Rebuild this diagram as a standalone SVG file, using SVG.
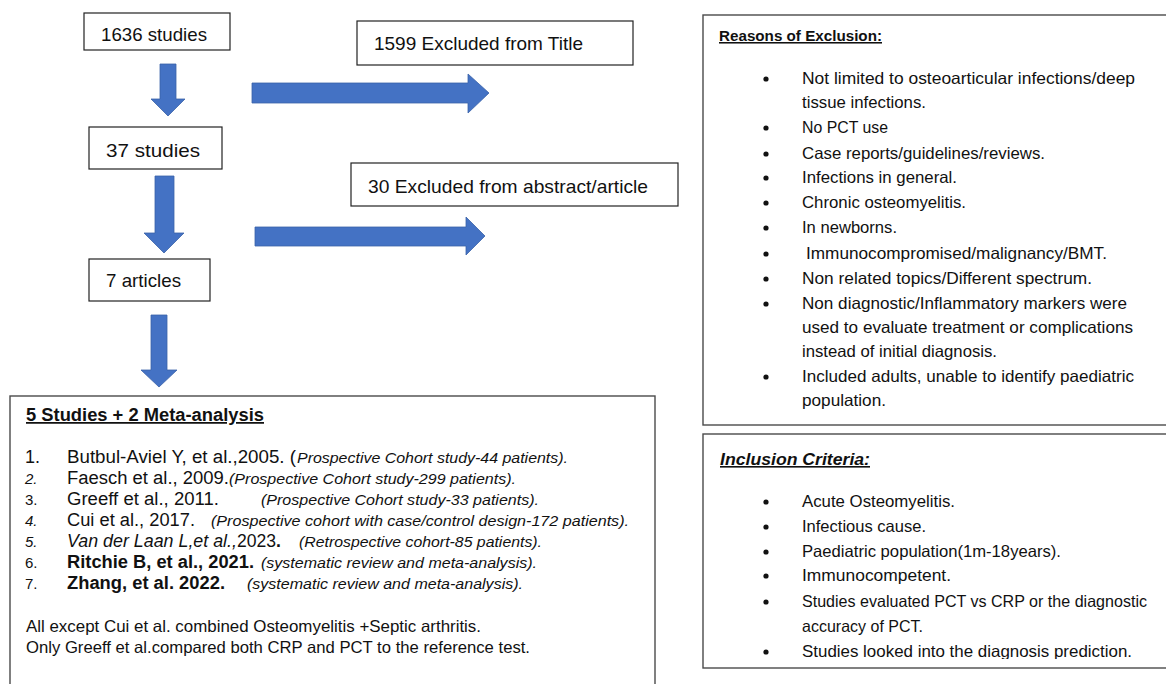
<svg xmlns="http://www.w3.org/2000/svg" width="1166" height="684" viewBox="0 0 1166 684">
<defs>
<style>
.box{fill:#fff;stroke:#222;stroke-width:1.2}
.box2{fill:#fff;stroke:#4a4a4a;stroke-width:1.4}
.arr{fill:#4472C4;stroke:#3a62a8;stroke-width:0.8}
.cal{font-family:"Liberation Sans",Arial,sans-serif;fill:#111}
.nar{font-family:"Liberation Sans",Arial,sans-serif;fill:#111}
.it{font-style:italic}
.b{font-weight:bold}
.u{text-decoration:underline}
.dot{fill:#111}
.rt{font-size:16.5px}
</style>
<clipPath id="incClip"><rect x="703" y="434" width="470" height="225"/></clipPath>
</defs>

<g id="connectors">
<polygon class="arr" points="160,64 176,64 176,99 185,99 168,116 151,99 160,99"/>
<polygon class="arr" points="155,176 174,176 174,233 184,233 164,253 144,233 155,233"/>
<polygon class="arr" points="151,315 167,315 167,370 177,370 159,387 141,370 151,370"/>
<polygon class="arr" points="252,83 468,83 468,74 489,93 468,113 468,103 252,103"/>
<polygon class="arr" points="255,227 466,227 466,217 485,236 466,255 466,246 255,246"/>
</g>

<g id="n1636">
<rect class="box" x="84" y="13" width="146" height="37"/>
<text class="cal" x="101" y="41" font-size="19" textLength="106" lengthAdjust="spacingAndGlyphs">1636 studies</text>
</g>

<g id="excl-title">
<rect class="box" x="357" y="21" width="276" height="44"/>
<text class="cal" x="374" y="50" font-size="19" textLength="209" lengthAdjust="spacingAndGlyphs">1599 Excluded from Title</text>
</g>

<g id="n37">
<rect class="box" x="89" y="127" width="133" height="42"/>
<text class="cal" x="106" y="157" font-size="19" textLength="94" lengthAdjust="spacingAndGlyphs">37 studies</text>
</g>

<g id="excl-abstract">
<rect class="box" x="351" y="163" width="327" height="43"/>
<text class="cal" x="368" y="193" font-size="19" textLength="280" lengthAdjust="spacingAndGlyphs">30 Excluded from abstract/article</text>
</g>

<g id="n7">
<rect class="box" x="89" y="259" width="121" height="42"/>
<text class="cal" x="106" y="287" font-size="19" textLength="75" lengthAdjust="spacingAndGlyphs">7 articles</text>
</g>

<g id="results">
<rect class="box2" x="10" y="396" width="645" height="300"/>
<text class="nar b u" x="26" y="421" font-size="17.5" textLength="238" lengthAdjust="spacingAndGlyphs">5 Studies + 2 Meta-analysis</text>

<text class="nar" x="25" y="463" font-size="18">1.</text>
<text class="nar" x="67" y="463" font-size="18" textLength="229" lengthAdjust="spacingAndGlyphs">Butbul-Aviel Y, et al.,2005. (</text>
<text class="nar it" x="297" y="463" font-size="15" textLength="271" lengthAdjust="spacingAndGlyphs">Prospective Cohort study-44 patients).</text>

<text class="nar it" x="25" y="484" font-size="15">2.</text>
<text class="nar" x="67" y="484" font-size="18" textLength="162" lengthAdjust="spacingAndGlyphs">Faesch et al., 2009.</text>
<text class="nar it" x="229" y="484" font-size="15" textLength="287" lengthAdjust="spacingAndGlyphs">(Prospective Cohort study-299 patients).</text>

<text class="nar" x="25" y="505" font-size="15">3.</text>
<text class="nar" x="67" y="505" font-size="18" textLength="152" lengthAdjust="spacingAndGlyphs">Greeff et al., 2011.</text>
<text class="nar it" x="261" y="505" font-size="15" textLength="278" lengthAdjust="spacingAndGlyphs">(Prospective Cohort study-33 patients).</text>

<text class="nar it" x="25" y="526" font-size="15">4.</text>
<text class="nar" x="67" y="526" font-size="18" textLength="128" lengthAdjust="spacingAndGlyphs">Cui et al., 2017.</text>
<text class="nar it" x="211" y="526" font-size="15" textLength="418" lengthAdjust="spacingAndGlyphs">(Prospective cohort with case/control design-172 patients).</text>

<text class="nar it" x="25" y="547" font-size="15">5.</text>
<text class="nar it" x="67" y="547" font-size="18" textLength="170" lengthAdjust="spacingAndGlyphs">Van der Laan L,et al.,</text>
<text class="nar" x="237" y="547" font-size="18" textLength="44" lengthAdjust="spacingAndGlyphs">2023<tspan font-weight="bold">.</tspan></text>
<text class="nar it" x="299" y="547" font-size="15" textLength="243" lengthAdjust="spacingAndGlyphs">(Retrospective cohort-85 patients).</text>

<text class="nar" x="25" y="568" font-size="15">6.</text>
<text class="nar b" x="67" y="568" font-size="18" textLength="187" lengthAdjust="spacingAndGlyphs">Ritchie B, et al., 2021.</text>
<text class="nar it" x="261" y="568" font-size="15" textLength="276" lengthAdjust="spacingAndGlyphs">(systematic review and meta-analysis).</text>

<text class="nar" x="25" y="589" font-size="15">7.</text>
<text class="nar b" x="67" y="589" font-size="18" textLength="158" lengthAdjust="spacingAndGlyphs">Zhang, et al. 2022.</text>
<text class="nar it" x="247" y="589" font-size="15" textLength="276" lengthAdjust="spacingAndGlyphs">(systematic review and meta-analysis).</text>

<text class="cal rt" x="26" y="632" textLength="455" lengthAdjust="spacingAndGlyphs">All except Cui et al. combined Osteomyelitis +Septic arthritis.</text>
<text class="cal rt" x="26" y="653" textLength="504" lengthAdjust="spacingAndGlyphs">Only Greeff et al.compared both CRP and PCT to the reference test.</text>
</g>

<g id="reasons">
<rect class="box2" x="703" y="15" width="470" height="410"/>
<text class="cal b u" x="719" y="41" font-size="15.5" textLength="163" lengthAdjust="spacingAndGlyphs">Reasons of Exclusion:</text>
<circle class="dot" cx="766" cy="79" r="2.6"/>
<text class="cal rt" x="802" y="84" textLength="333" lengthAdjust="spacingAndGlyphs">Not limited to osteoarticular infections/deep</text>
<text class="cal rt" x="802" y="108" textLength="124" lengthAdjust="spacingAndGlyphs">tissue infections.</text>
<circle class="dot" cx="766" cy="128" r="2.6"/>
<text class="cal rt" x="802" y="133" textLength="86" lengthAdjust="spacingAndGlyphs">No PCT use</text>
<circle class="dot" cx="766" cy="154" r="2.6"/>
<text class="cal rt" x="802" y="159" textLength="243" lengthAdjust="spacingAndGlyphs">Case reports/guidelines/reviews.</text>
<circle class="dot" cx="766" cy="178" r="2.6"/>
<text class="cal rt" x="802" y="183" textLength="155" lengthAdjust="spacingAndGlyphs">Infections in general.</text>
<circle class="dot" cx="766" cy="203" r="2.6"/>
<text class="cal rt" x="802" y="208" textLength="164" lengthAdjust="spacingAndGlyphs">Chronic osteomyelitis.</text>
<circle class="dot" cx="766" cy="228" r="2.6"/>
<text class="cal rt" x="802" y="233" textLength="95" lengthAdjust="spacingAndGlyphs">In newborns.</text>
<circle class="dot" cx="766" cy="254" r="2.6"/>
<text class="cal rt" x="806" y="259" textLength="301" lengthAdjust="spacingAndGlyphs">Immunocompromised/malignancy/BMT.</text>
<circle class="dot" cx="766" cy="279" r="2.6"/>
<text class="cal rt" x="802" y="284" textLength="290" lengthAdjust="spacingAndGlyphs">Non related topics/Different spectrum.</text>
<circle class="dot" cx="766" cy="304" r="2.6"/>
<text class="cal rt" x="802" y="309" textLength="325" lengthAdjust="spacingAndGlyphs">Non diagnostic/Inflammatory markers were</text>
<text class="cal rt" x="802" y="333" textLength="331" lengthAdjust="spacingAndGlyphs">used to evaluate treatment or complications</text>
<text class="cal rt" x="802" y="357" textLength="195" lengthAdjust="spacingAndGlyphs">instead of initial diagnosis.</text>
<circle class="dot" cx="766" cy="377" r="2.6"/>
<text class="cal rt" x="802" y="382" textLength="332" lengthAdjust="spacingAndGlyphs">Included adults, unable to identify paediatric</text>
<text class="cal rt" x="802" y="406" textLength="84" lengthAdjust="spacingAndGlyphs">population.</text>
</g>

<g id="inclusion">
<rect class="box2" x="703" y="434" width="470" height="234"/>
<text class="cal b it u" x="720" y="465" font-size="16" textLength="150" lengthAdjust="spacingAndGlyphs">Inclusion Criteria:</text>
<g clip-path="url(#incClip)">
<circle class="dot" cx="766" cy="502" r="2.6"/>
<text class="cal rt" x="802" y="507" textLength="153" lengthAdjust="spacingAndGlyphs">Acute Osteomyelitis.</text>
<circle class="dot" cx="766" cy="527" r="2.6"/>
<text class="cal rt" x="802" y="532" textLength="124" lengthAdjust="spacingAndGlyphs">Infectious cause.</text>
<circle class="dot" cx="766" cy="552" r="2.6"/>
<text class="cal rt" x="802" y="557" textLength="259" lengthAdjust="spacingAndGlyphs">Paediatric population(1m-18years).</text>
<circle class="dot" cx="766" cy="576" r="2.6"/>
<text class="cal rt" x="802" y="581" textLength="149" lengthAdjust="spacingAndGlyphs">Immunocompetent.</text>
<circle class="dot" cx="766" cy="602" r="2.6"/>
<text class="cal rt" x="802" y="607" textLength="345" lengthAdjust="spacingAndGlyphs">Studies evaluated PCT vs CRP or the diagnostic</text>
<text class="cal rt" x="802" y="632" textLength="121" lengthAdjust="spacingAndGlyphs">accuracy of PCT.</text>
<circle class="dot" cx="766" cy="652" r="2.6"/>
<text class="cal rt" x="802" y="657" textLength="330" lengthAdjust="spacingAndGlyphs">Studies looked into the diagnosis prediction.</text>
</g>
</g>
</svg>
